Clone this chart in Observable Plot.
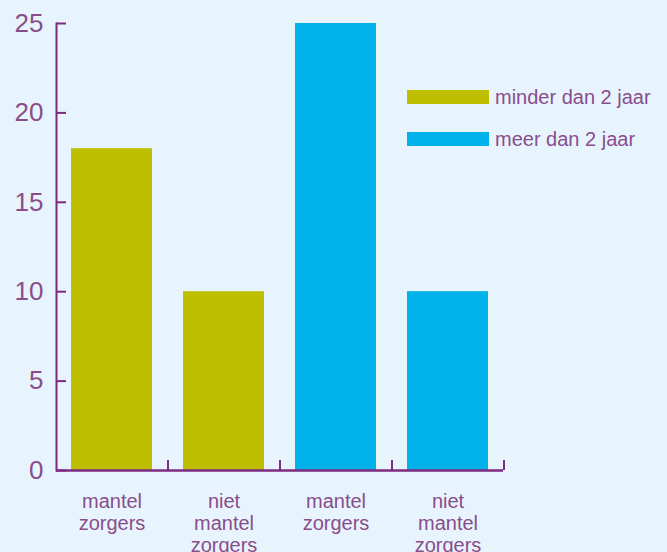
<!DOCTYPE html>
<html>
<head>
<meta charset="utf-8">
<script src="https://cdn.jsdelivr.net/npm/d3@7"></script>
<script src="https://cdn.jsdelivr.net/npm/@observablehq/plot@0.6"></script>
<style>
  html, body { margin: 0; padding: 0; background: #e7f4fd; overflow: hidden; }
  #wrap { position: relative; width: 667px; height: 552px; }
  .legend { position: absolute; left: 407px; font-family: "Liberation Sans", Arial, sans-serif; font-size: 20px; color: #8a4d8c; display: flex; align-items: center; white-space: nowrap; }
  .legend .sw { width: 82px; height: 14px; margin-right: 6px; }
</style>
</head>
<body>
<div id="wrap"></div>
<script>
const categories = ["mantel\nzorgers", "niet\nmantel\nzorgers", "mantel\nzorgers", "niet\nmantel\nzorgers"];
const groups = ["minder dan 2 jaar", "minder dan 2 jaar", "meer dan 2 jaar", "meer dan 2 jaar"];
const values = [18, 10, 25, 10];
const yTicks = [0, 5, 10, 15, 20, 25];
const seriesNames = ["minder dan 2 jaar", "meer dan 2 jaar"];
const seriesColors = ["#bdbf00", "#00b1ea"];

const axisColor = "#7b2b80";
const textColor = "#8a4d8c";
const idx = categories.map((_, i) => i);
const data = idx.map(i => ({i, group: groups[i], value: values[i]}));

const W = 667, H = 552, mL = 56, mR = 164, mT = 23, mB = 82;
const pInner = 0.277, pOuter = 0.134;
const step = (W - mL - mR) / (categories.length - pInner + 2 * pOuter);
const pxPerUnit = (H - mT - mB) / 25;

const chart = Plot.plot({
  width: W, height: H,
  marginLeft: mL, marginRight: mR, marginTop: mT, marginBottom: mB,
  style: {background: "transparent", fontFamily: "Liberation Sans, Arial, sans-serif", color: textColor},
  x: {domain: idx, paddingInner: pInner, paddingOuter: pOuter, align: 0.5},
  y: {domain: [0, 25]},
  color: {domain: seriesNames, range: seriesColors},
  marks: [
    Plot.barY(data, {x: "i", y: "value", fill: "group"}),
    Plot.axisX({tickSize: 0, tickPadding: 22, fontSize: 20, lineHeight: 1.1, tickFormat: i => categories[i], label: null, fill: textColor}),
    Plot.axisY({ticks: yTicks, tickSize: 0, tickPadding: 13, fontSize: 26, label: null, fill: textColor}),
    Plot.axisY({ticks: yTicks, tickSize: -10, tickFormat: () => "", label: null, stroke: axisColor, strokeWidth: 2}),
    Plot.ruleX(idx, {x: d => d, dx: step / 2, y1: 0, y2: 10 / pxPerUnit, stroke: axisColor, strokeWidth: 2}),
    Plot.ruleY([0], {stroke: axisColor, strokeWidth: 2.5}),
    Plot.frame({anchor: "left", stroke: axisColor, strokeWidth: 2})
  ]
});

const wrap = document.getElementById("wrap");
wrap.appendChild(chart);

const tops = [90, 132];
seriesNames.forEach((name, k) => {
  const row = document.createElement("div");
  row.className = "legend";
  row.style.top = (tops[k] - 3) + "px";
  row.style.height = "20px";
  const sw = document.createElement("div");
  sw.className = "sw";
  sw.style.background = seriesColors[k];
  const t = document.createElement("span");
  t.textContent = name;
  row.appendChild(sw);
  row.appendChild(t);
  wrap.appendChild(row);
});
</script>
</body>
</html>
